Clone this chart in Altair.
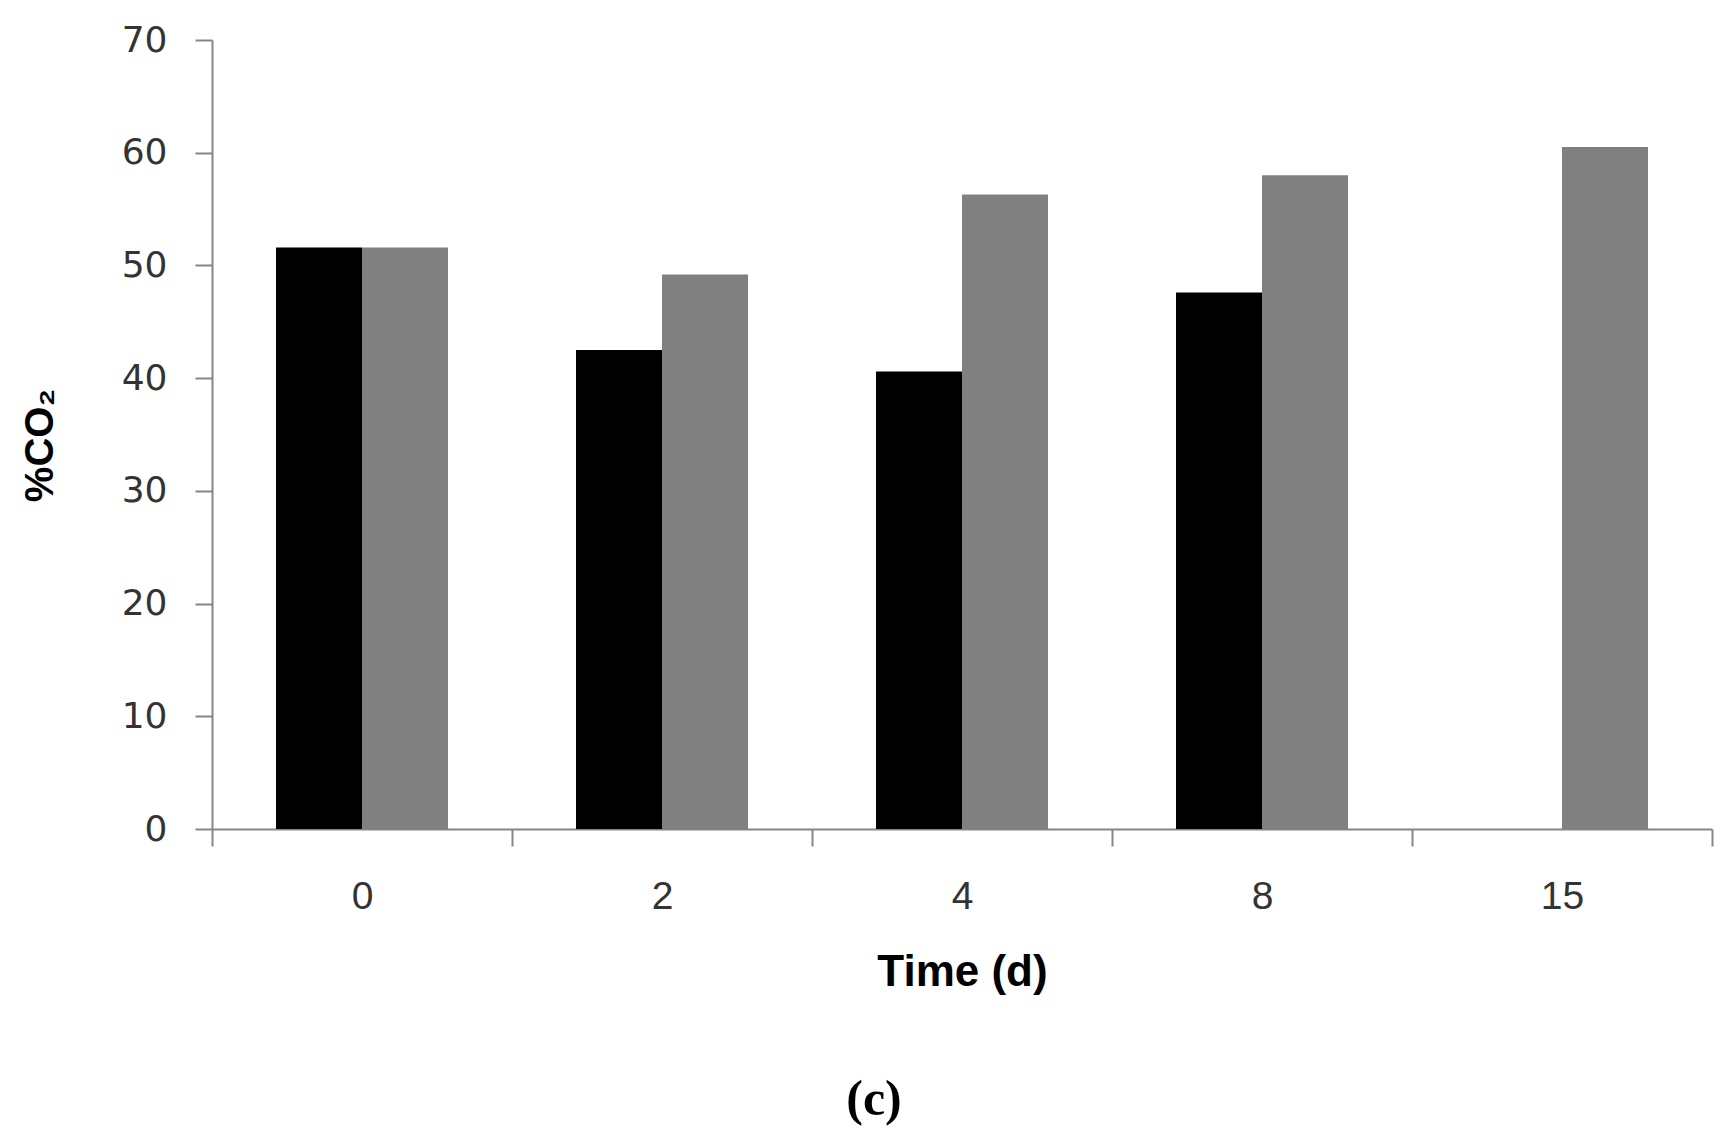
import altair as alt
import pandas as pd

# ---- data ----
days = ["0", "2", "4", "8", "15"]
series_names = ["Series 1", "Series 2"]
series1_vals = [51.6, 42.5, 40.6, 47.6, None]
series2_vals = [51.6, 49.2, 56.3, 58.0, 60.5]
bar_colors = ["#000000", "#808080"]
y_ticks = [0, 10, 20, 30, 40, 50, 60, 70]

rows = []
for d, a, b in zip(days, series1_vals, series2_vals):
    if a is not None:
        rows.append({"day": d, "series": series_names[0], "co2": a})
    if b is not None:
        rows.append({"day": d, "series": series_names[1], "co2": b})
df = pd.DataFrame(rows)

axis_gray = "#868686"
label_color = "#333333"

chart = (
    alt.Chart(df)
    .mark_bar()
    .encode(
        x=alt.X(
            "day:N",
            sort=days,
            scale=alt.Scale(paddingInner=0, paddingOuter=0),
            axis=alt.Axis(
                title="Time (d)",
                labelAngle=0,
                tickBand="extent",
                tickSize=17,
                tickWidth=2,
                tickColor=axis_gray,
                domainColor=axis_gray,
                domainWidth=2,
                labelFont="Liberation Sans",
                labelFontSize=39,
                labelColor=label_color,
                labelPadding=31,
                titleFont="Liberation Sans",
                titleFontSize=44,
                titleFontWeight="bold",
                titleColor="#000000",
                titleBaseline="alphabetic",
                titleY=156,
            ),
        ),
        xOffset=alt.XOffset(
            "series:N",
            sort=series_names,
            scale=alt.Scale(domain=series_names, paddingInner=0, paddingOuter=0.744),
        ),
        y=alt.Y(
            "co2:Q",
            scale=alt.Scale(domain=[0, 70], nice=False),
            axis=alt.Axis(
                title="%CO₂",
                values=y_ticks,
                grid=False,
                tickSize=17,
                tickWidth=2,
                tickColor=axis_gray,
                domainColor=axis_gray,
                domainWidth=2,
                labelFont="DejaVu Sans",
                labelFontSize=36,
                labelColor=label_color,
                labelPadding=28,
                titleFont="Liberation Sans",
                titleFontSize=40,
                titleFontWeight="bold",
                titleColor="#000000",
                titleAngle=270,
                titleAlign="center",
                titleBaseline="alphabetic",
                titleX=-160,
                titleY=405,
            ),
        ),
        color=alt.Color(
            "series:N",
            scale=alt.Scale(domain=series_names, range=bar_colors),
            legend=None,
        ),
    )
    .properties(
        width=1500,
        height=789,
        title=alt.TitleParams(
            "(c)",
            orient="bottom",
            anchor="middle",
            font="Liberation Serif",
            fontSize=50,
            fontWeight="bold",
            color="#000000",
            baseline="alphabetic",
            dx=-88,
            offset=121,
        ),
        padding={"left": 204, "top": 32, "right": 10, "bottom": 298},
        autosize=alt.AutoSizeParams(type="none"),
    )
    .configure_view(stroke=None)
)

chart.save("out.html", embed_options={"renderer": "svg", "actions": False})
